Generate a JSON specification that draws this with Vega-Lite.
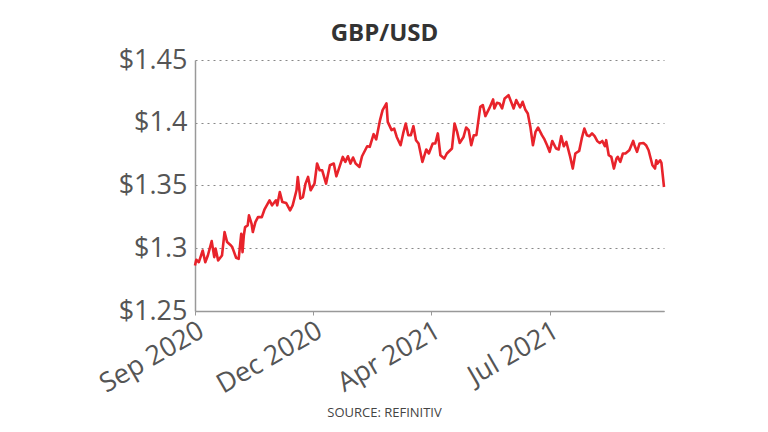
{
  "$schema": "https://vega.github.io/schema/vega-lite/v6.json",
  "width": 469,
  "height": 251,
  "autosize": {"type": "none"},
  "padding": {"left": 195, "top": 60, "right": 104, "bottom": 121},
  "background": "white",
  "title": {"text": "GBP/USD", "anchor": "middle", "frame": "group", "dx": -45, "fontSize": 24, "font": "Open Sans", "fontWeight": "bold", "color": "#333333", "offset": 0},
  "data": {"values": [
    {"date": "2020-09-29", "rate": 1.2863},
    {"date": "2020-09-30", "rate": 1.2908},
    {"date": "2020-10-02", "rate": 1.2889},
    {"date": "2020-10-05", "rate": 1.2982},
    {"date": "2020-10-07", "rate": 1.2889},
    {"date": "2020-10-09", "rate": 1.2942},
    {"date": "2020-10-12", "rate": 1.3057},
    {"date": "2020-10-14", "rate": 1.2929},
    {"date": "2020-10-15", "rate": 1.2998},
    {"date": "2020-10-17", "rate": 1.2903},
    {"date": "2020-10-20", "rate": 1.2942},
    {"date": "2020-10-22", "rate": 1.3129},
    {"date": "2020-10-24", "rate": 1.3049},
    {"date": "2020-10-27", "rate": 1.3022},
    {"date": "2020-10-28", "rate": 1.3009},
    {"date": "2020-10-31", "rate": 1.2924},
    {"date": "2020-11-02", "rate": 1.2916},
    {"date": "2020-11-04", "rate": 1.3116},
    {"date": "2020-11-05", "rate": 1.2969},
    {"date": "2020-11-06", "rate": 1.3102},
    {"date": "2020-11-07", "rate": 1.3169},
    {"date": "2020-11-09", "rate": 1.3182},
    {"date": "2020-11-10", "rate": 1.3262},
    {"date": "2020-11-12", "rate": 1.3196},
    {"date": "2020-11-13", "rate": 1.3129},
    {"date": "2020-11-15", "rate": 1.3208},
    {"date": "2020-11-17", "rate": 1.3248},
    {"date": "2020-11-20", "rate": 1.3248},
    {"date": "2020-11-22", "rate": 1.3307},
    {"date": "2020-11-26", "rate": 1.3382},
    {"date": "2020-11-28", "rate": 1.3342},
    {"date": "2020-12-01", "rate": 1.3382},
    {"date": "2020-12-02", "rate": 1.3342},
    {"date": "2020-12-04", "rate": 1.3448},
    {"date": "2020-12-06", "rate": 1.3368},
    {"date": "2020-12-09", "rate": 1.3360},
    {"date": "2020-12-12", "rate": 1.3302},
    {"date": "2020-12-14", "rate": 1.3342},
    {"date": "2020-12-17", "rate": 1.3462},
    {"date": "2020-12-18", "rate": 1.3568},
    {"date": "2020-12-20", "rate": 1.3395},
    {"date": "2020-12-22", "rate": 1.3408},
    {"date": "2020-12-24", "rate": 1.3515},
    {"date": "2020-12-26", "rate": 1.3568},
    {"date": "2020-12-28", "rate": 1.3462},
    {"date": "2020-12-31", "rate": 1.3515},
    {"date": "2021-01-02", "rate": 1.3675},
    {"date": "2021-01-04", "rate": 1.3621},
    {"date": "2021-01-06", "rate": 1.3621},
    {"date": "2021-01-09", "rate": 1.3515},
    {"date": "2021-01-12", "rate": 1.3661},
    {"date": "2021-01-15", "rate": 1.3675},
    {"date": "2021-01-17", "rate": 1.3573},
    {"date": "2021-01-19", "rate": 1.3635},
    {"date": "2021-01-22", "rate": 1.3728},
    {"date": "2021-01-24", "rate": 1.3688},
    {"date": "2021-01-26", "rate": 1.3733},
    {"date": "2021-01-28", "rate": 1.3675},
    {"date": "2021-01-30", "rate": 1.3723},
    {"date": "2021-02-01", "rate": 1.3675},
    {"date": "2021-02-04", "rate": 1.3648},
    {"date": "2021-02-06", "rate": 1.3733},
    {"date": "2021-02-10", "rate": 1.3813},
    {"date": "2021-02-12", "rate": 1.3808},
    {"date": "2021-02-15", "rate": 1.3909},
    {"date": "2021-02-17", "rate": 1.3867},
    {"date": "2021-02-20", "rate": 1.4021},
    {"date": "2021-02-22", "rate": 1.4101},
    {"date": "2021-02-25", "rate": 1.4154},
    {"date": "2021-02-26", "rate": 1.4007},
    {"date": "2021-03-01", "rate": 1.3941},
    {"date": "2021-03-03", "rate": 1.3954},
    {"date": "2021-03-05", "rate": 1.3887},
    {"date": "2021-03-08", "rate": 1.3821},
    {"date": "2021-03-10", "rate": 1.3915},
    {"date": "2021-03-12", "rate": 1.3994},
    {"date": "2021-03-14", "rate": 1.3901},
    {"date": "2021-03-16", "rate": 1.3901},
    {"date": "2021-03-18", "rate": 1.3973},
    {"date": "2021-03-20", "rate": 1.3861},
    {"date": "2021-03-22", "rate": 1.3835},
    {"date": "2021-03-25", "rate": 1.3688},
    {"date": "2021-03-28", "rate": 1.3787},
    {"date": "2021-03-30", "rate": 1.3755},
    {"date": "2021-04-02", "rate": 1.3835},
    {"date": "2021-04-04", "rate": 1.3835},
    {"date": "2021-04-06", "rate": 1.3915},
    {"date": "2021-04-08", "rate": 1.3741},
    {"date": "2021-04-11", "rate": 1.3715},
    {"date": "2021-04-13", "rate": 1.3755},
    {"date": "2021-04-17", "rate": 1.3795},
    {"date": "2021-04-19", "rate": 1.3994},
    {"date": "2021-04-21", "rate": 1.3927},
    {"date": "2021-04-23", "rate": 1.3839},
    {"date": "2021-04-26", "rate": 1.3887},
    {"date": "2021-04-28", "rate": 1.3962},
    {"date": "2021-04-30", "rate": 1.3941},
    {"date": "2021-05-02", "rate": 1.3821},
    {"date": "2021-05-04", "rate": 1.3901},
    {"date": "2021-05-06", "rate": 1.3901},
    {"date": "2021-05-09", "rate": 1.4127},
    {"date": "2021-05-11", "rate": 1.4141},
    {"date": "2021-05-13", "rate": 1.4053},
    {"date": "2021-05-16", "rate": 1.4114},
    {"date": "2021-05-19", "rate": 1.4186},
    {"date": "2021-05-20", "rate": 1.4114},
    {"date": "2021-05-22", "rate": 1.4159},
    {"date": "2021-05-24", "rate": 1.4154},
    {"date": "2021-05-26", "rate": 1.4114},
    {"date": "2021-05-28", "rate": 1.4194},
    {"date": "2021-05-31", "rate": 1.4220},
    {"date": "2021-06-02", "rate": 1.4167},
    {"date": "2021-06-04", "rate": 1.4114},
    {"date": "2021-06-06", "rate": 1.4181},
    {"date": "2021-06-09", "rate": 1.4122},
    {"date": "2021-06-11", "rate": 1.4167},
    {"date": "2021-06-13", "rate": 1.4106},
    {"date": "2021-06-15", "rate": 1.4074},
    {"date": "2021-06-17", "rate": 1.3967},
    {"date": "2021-06-19", "rate": 1.3821},
    {"date": "2021-06-21", "rate": 1.3927},
    {"date": "2021-06-23", "rate": 1.3962},
    {"date": "2021-06-26", "rate": 1.3901},
    {"date": "2021-06-28", "rate": 1.3867},
    {"date": "2021-06-30", "rate": 1.3821},
    {"date": "2021-07-02", "rate": 1.3768},
    {"date": "2021-07-04", "rate": 1.3855},
    {"date": "2021-07-07", "rate": 1.3795},
    {"date": "2021-07-09", "rate": 1.3787},
    {"date": "2021-07-11", "rate": 1.3893},
    {"date": "2021-07-13", "rate": 1.3813},
    {"date": "2021-07-15", "rate": 1.3847},
    {"date": "2021-07-18", "rate": 1.3728},
    {"date": "2021-07-20", "rate": 1.3635},
    {"date": "2021-07-22", "rate": 1.3755},
    {"date": "2021-07-25", "rate": 1.3776},
    {"date": "2021-07-27", "rate": 1.3875},
    {"date": "2021-07-29", "rate": 1.3954},
    {"date": "2021-07-31", "rate": 1.3901},
    {"date": "2021-08-02", "rate": 1.3893},
    {"date": "2021-08-04", "rate": 1.3915},
    {"date": "2021-08-06", "rate": 1.3893},
    {"date": "2021-08-08", "rate": 1.3855},
    {"date": "2021-08-10", "rate": 1.3839},
    {"date": "2021-08-12", "rate": 1.3855},
    {"date": "2021-08-14", "rate": 1.3813},
    {"date": "2021-08-15", "rate": 1.3861},
    {"date": "2021-08-17", "rate": 1.3741},
    {"date": "2021-08-19", "rate": 1.3728},
    {"date": "2021-08-21", "rate": 1.3635},
    {"date": "2021-08-23", "rate": 1.3715},
    {"date": "2021-08-24", "rate": 1.3728},
    {"date": "2021-08-26", "rate": 1.3688},
    {"date": "2021-08-28", "rate": 1.3755},
    {"date": "2021-08-30", "rate": 1.3755},
    {"date": "2021-09-02", "rate": 1.3781},
    {"date": "2021-09-05", "rate": 1.3855},
    {"date": "2021-09-06", "rate": 1.3821},
    {"date": "2021-09-08", "rate": 1.3768},
    {"date": "2021-09-10", "rate": 1.3835},
    {"date": "2021-09-13", "rate": 1.3839},
    {"date": "2021-09-15", "rate": 1.3821},
    {"date": "2021-09-17", "rate": 1.3781},
    {"date": "2021-09-19", "rate": 1.3701},
    {"date": "2021-09-20", "rate": 1.3661},
    {"date": "2021-09-22", "rate": 1.3635},
    {"date": "2021-09-23", "rate": 1.3701},
    {"date": "2021-09-24", "rate": 1.3675},
    {"date": "2021-09-26", "rate": 1.3701},
    {"date": "2021-09-27", "rate": 1.3680},
    {"date": "2021-09-29", "rate": 1.3488}
  ]},
  "mark": {"type": "line", "color": "#e8232b", "strokeWidth": 2.6, "strokeJoin": "round"},
  "encoding": {
    "x": {
      "field": "date",
      "type": "temporal",
      "scale": {"type": "utc", "domain": [{"year": 2020, "month": 9, "date": 29, "utc": true}, {"year": 2021, "month": 9, "date": 29, "utc": true}]},
      "axis": {
        "values": [
          {"year": 2020, "month": 9, "date": 29, "utc": true},
          {"year": 2020, "month": 12, "date": 30, "utc": true},
          {"year": 2021, "month": 4, "date": 1, "utc": true},
          {"year": 2021, "month": 7, "date": 2, "utc": true}
        ],
        "format": "%b %Y",
        "grid": false,
        "domainColor": "#999999",
        "domainWidth": 1.5,
        "tickColor": "#999999",
        "tickSize": 4,
        "labelAngle": -30,
        "labelAlign": "right",
        "labelBaseline": "top",
        "labelFont": "Open Sans",
        "labelFontSize": 27,
        "labelColor": "#555555",
        "labelPadding": 2,
        "labelFlush": false,
        "labelOverlap": false,
        "title": "SOURCE: REFINITIV",
        "titleFont": "Open Sans",
        "titleFontSize": 13,
        "titleFontWeight": "normal",
        "titleColor": "#444444",
        "titleX": 189,
        "titleY": 105,
        "titleAlign": "center",
        "titleBaseline": "alphabetic"
      }
    },
    "y": {
      "field": "rate",
      "type": "quantitative",
      "scale": {"domain": [1.25, 1.45], "zero": false, "nice": false},
      "axis": {
        "values": [1.25, 1.3, 1.35, 1.4, 1.45],
        "format": "$.2~f",
        "grid": true,
        "gridDash": [2, 4],
        "gridColor": "#888888",
        "gridWidth": 1,
        "ticks": false,
        "domainColor": "#999999",
        "domainWidth": 1.5,
        "labelFont": "Open Sans",
        "labelFontSize": 27,
        "labelColor": "#555555",
        "labelPadding": 8,
        "title": null
      }
    }
  },
  "config": {"view": {"stroke": null}}
}
